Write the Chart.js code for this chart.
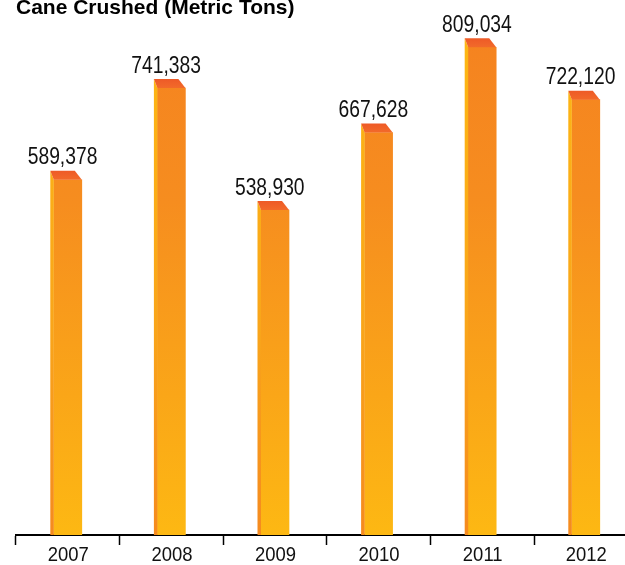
<!DOCTYPE html>
<html>
<head>
<meta charset="utf-8">
<title>Cane Crushed (Metric Tons)</title>
<script src="https://cdn.jsdelivr.net/npm/chart.js@4/dist/chart.umd.min.js"></script>
<style>
  html, body { margin: 0; padding: 0; background: #fff; }
  #wrap { position: relative; width: 625px; height: 565px; overflow: hidden; }
  #chart { position: absolute; left: 0; top: 0; }
</style>
</head>
<body>
<div id="wrap"><canvas id="chart" width="645" height="575"></canvas></div>
<script>
const years = ['2007', '2008', '2009', '2010', '2011', '2012'];
const caneCrushed = [589378, 741383, 538930, 667628, 809034, 722120];
const chartTitle = 'Cane Crushed (Metric Tons)';

const CAP_H = 9;      // depth of the slanted top
const SIDE_W = 3.5;   // width of the left side strip
const CAP_SLANT = 7;  // how far the back edge of the top sits left of the front
const FONT = '"Liberation Sans", Arial, sans-serif';

// condensed-looking text: regular face squeezed horizontally
function narrowText(ctx, text, x, y, size, squeeze) {
  ctx.save();
  ctx.font = size + 'px ' + FONT;
  ctx.textAlign = 'center';
  ctx.textBaseline = 'alphabetic';
  ctx.translate(x, y);
  ctx.scale(squeeze, 1);
  ctx.fillText(text, 0, 0);
  ctx.restore();
}

function faceGradient(chart) {
  const a = chart.chartArea;
  if (!a) return '#F7941D';
  const g = chart.ctx.createLinearGradient(0, a.top, 0, a.bottom);
  g.addColorStop(0, '#F58220');
  g.addColorStop(0.35, '#F68D1F');
  g.addColorStop(1, '#FDB813');
  return g;
}

// draws the side strip, the top and the value label for every bar
const bar3d = {
  id: 'bar3d',
  afterDatasetsDraw(chart) {
    const ctx = chart.ctx;
    const a = chart.chartArea;
    const meta = chart.getDatasetMeta(0);
    const vals = chart.data.datasets[0].data;
    meta.data.forEach((bar, i) => {
      const { x, y, width, base } = bar.getProps(['x', 'y', 'width', 'base'], true);
      const fl = x - width / 2, fr = x + width / 2;
      const sl = fl - SIDE_W;

      const sg = ctx.createLinearGradient(0, a.top, 0, a.bottom);
      sg.addColorStop(0, '#FDB813');
      sg.addColorStop(0.6, '#F9A51A');
      sg.addColorStop(1, '#F58A1F');
      ctx.save();
      ctx.fillStyle = sg;
      ctx.beginPath();
      ctx.moveTo(sl, y - CAP_H);
      ctx.lineTo(fl, y);
      ctx.lineTo(fl, base);
      ctx.lineTo(sl, base);
      ctx.closePath();
      ctx.fill();

      const cg = ctx.createLinearGradient(0, y - CAP_H, 0, y);
      cg.addColorStop(0, '#EE5A27');
      cg.addColorStop(1, '#F26A2A');
      ctx.fillStyle = cg;
      ctx.beginPath();
      ctx.moveTo(sl, y - CAP_H);
      ctx.lineTo(fr - CAP_SLANT, y - CAP_H);
      ctx.lineTo(fr, y);
      ctx.lineTo(fl, y);
      ctx.closePath();
      ctx.fill();

      ctx.fillStyle = '#111';
      narrowText(ctx, vals[i].toLocaleString('en-US'), (sl + fr - CAP_SLANT) / 2, y - CAP_H - 6.5, 23.5, 0.82);
      ctx.restore();
    });
  }
};

// year labels under the axis, plus the title
const labelsAndTitle = {
  id: 'labelsAndTitle',
  afterDraw(chart) {
    const ctx = chart.ctx;
    const xs = chart.scales.x;
    ctx.save();
    ctx.fillStyle = '#111';
    chart.data.labels.forEach((lab, i) => {
      narrowText(ctx, lab, xs.getPixelForValue(i) + 0.5, xs.top + 25.5, 20.5, 0.9);
    });
    ctx.fillStyle = '#000';
    ctx.font = 'bold 21px ' + FONT;
    ctx.textAlign = 'left';
    ctx.textBaseline = 'alphabetic';
    ctx.fillText(chartTitle, 16, 13.5);
    ctx.restore();
  }
};

new Chart(document.getElementById('chart'), {
  type: 'bar',
  data: {
    labels: years,
    datasets: [{
      data: caneCrushed,
      barThickness: 28,
      backgroundColor: (c) => faceGradient(c.chart),
      borderWidth: 0
    }]
  },
  options: {
    responsive: false,
    animation: false,
    devicePixelRatio: 1,
    layout: { padding: { left: 16, right: 7.4, top: 22.6, bottom: 6 } },
    plugins: { legend: { display: false }, tooltip: { enabled: false }, title: { display: false } },
    scales: {
      y: { display: false, min: 0, max: 850000 },
      x: {
        offset: true,
        grid: {
          offset: true,
          drawOnChartArea: false,
          drawTicks: true,
          tickLength: 10,
          tickWidth: 1.5,
          tickColor: '#000'
        },
        border: { display: true, color: '#000', width: 2 },
        ticks: {
          color: 'rgba(0,0,0,0)',
          padding: 1,
          font: { family: FONT, size: 22, lineHeight: 1 }
        }
      }
    }
  },
  plugins: [bar3d, labelsAndTitle]
});
</script>
</body>
</html>
